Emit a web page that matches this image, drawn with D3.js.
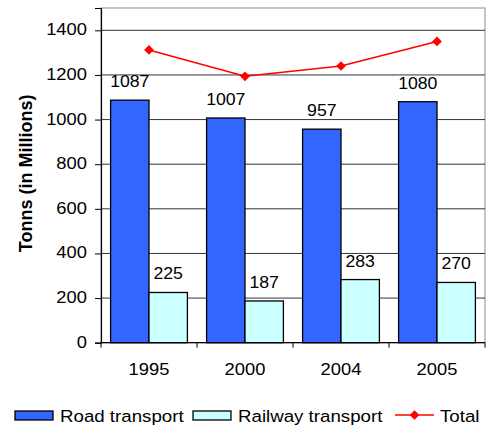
<!DOCTYPE html>
<html>
<head>
<meta charset="utf-8">
<script src="https://cdn.jsdelivr.net/npm/d3@7"></script>
<style>
  html, body { margin: 0; padding: 0; background: #fff; }
  text { font-family: "Liberation Sans", Arial, sans-serif; fill: #000; }
</style>
</head>
<body>
<svg id="chart" width="486" height="428"></svg>
<script>
// Freight carried, in millions of tonnes
const years = ["1995", "2000", "2004", "2005"];
const roadTransport = [1087, 1007, 957, 1080];
const railwayTransport = [225, 187, 283, 270];
const totals = [1312, 1194, 1240, 1350];
const yTicks = [0, 200, 400, 600, 800, 1000, 1200, 1400];
const seriesNames = ["Road transport", "Railway transport", "Total"];

const svg = d3.select("#chart");
const plot = { left: 101, right: 485, top: 8, bottom: 342.7 };

// place a text at (px, py) with a slight horizontal widening of the glyphs
function widen(sel, px, py, sx) {
  sel.attr("x", 0).attr("y", 0)
    .attr("transform", (d, i) => `translate(${typeof px === "function" ? px(d, i) : px},${typeof py === "function" ? py(d, i) : py}) scale(${sx},1)`);
}

const x = d3.scaleBand().domain(years).range([plot.left, plot.right])
  .paddingInner(0.2).paddingOuter(0.1);
const xSeries = d3.scaleBand().domain([0, 1]).range([0, x.bandwidth()]);
const y = d3.scaleLinear().domain([0, 1500]).range([plot.bottom, plot.top]);

// plot frame
svg.append("rect")
  .attr("x", plot.left).attr("y", plot.top)
  .attr("width", plot.right - plot.left).attr("height", plot.bottom - plot.top)
  .attr("fill", "none").attr("stroke", "#a0a0a0").attr("stroke-width", 1.2);

// horizontal gridlines
svg.append("g").selectAll("line").data(yTicks.filter(d => d > 0)).join("line")
  .attr("x1", plot.left).attr("x2", plot.right)
  .attr("y1", d => y(d)).attr("y2", d => y(d))
  .attr("stroke", "#333").attr("stroke-width", 1);

// bars
const groups = years.map((yr, i) => ({ yr, vals: [roadTransport[i], railwayTransport[i]] }));
const fills = ["#3366ff", "#ccffff"];
const g = svg.append("g").selectAll("g").data(groups).join("g")
  .attr("transform", d => `translate(${x(d.yr)},0)`);
g.selectAll("rect").data(d => d.vals.map((v, k) => ({ v, k }))).join("rect")
  .attr("x", d => xSeries(d.k)).attr("width", xSeries.bandwidth())
  .attr("y", d => y(d.v)).attr("height", d => y(0) - y(d.v))
  .attr("fill", d => fills[d.k]).attr("stroke", "#000").attr("stroke-width", 1.3);
g.selectAll("text").data(d => d.vals.map((v, k) => ({ v, k }))).join("text")
  .attr("text-anchor", "middle").attr("font-size", 17)
  .text(d => d.v)
  .call(widen, d => xSeries(d.k) + xSeries.bandwidth() / 2, d => y(d.v) - 13, 1.04);

// left axis
const yAxis = svg.append("g").attr("transform", `translate(${plot.left},0)`)
  .call(d3.axisLeft(y).tickValues(yTicks).tickSize(6).tickPadding(8).tickFormat(d3.format("d")));
yAxis.select(".domain").attr("stroke", "#000").attr("stroke-width", 1.2);
yAxis.selectAll(".tick line").attr("stroke", "#000");
yAxis.selectAll(".tick text").attr("font-size", 17).attr("fill", "#000")
  .attr("font-family", "Liberation Sans, Arial, sans-serif")
  .attr("dy", null).attr("dominant-baseline", "middle")
  .call(widen, -14, 0, 1.08);

// bottom axis
const xAxis = svg.append("g").attr("transform", `translate(0,${plot.bottom})`);
xAxis.append("line").attr("x1", plot.left).attr("x2", plot.right)
  .attr("stroke", "#000").attr("stroke-width", 1.2);
const bounds = years.map(yr => x(yr) - x.step() * x.paddingInner() / 2).concat([plot.right]);
xAxis.selectAll("line.tk").data(bounds).join("line").attr("class", "tk")
  .attr("x1", d => d).attr("x2", d => d).attr("y1", 0).attr("y2", 5)
  .attr("stroke", "#000");
xAxis.selectAll("text").data(years).join("text")
  .attr("text-anchor", "middle").attr("font-size", 17).text(d => d)
  .call(widen, d => x(d) + x.bandwidth() / 2, 32, 1.08);

// total line
const line = d3.line().x((d, i) => x(years[i]) + x.bandwidth() / 2).y(d => y(d));
svg.append("path").datum(totals).attr("d", line)
  .attr("fill", "none").attr("stroke", "#ff0000").attr("stroke-width", 1.5);
const diamond = d3.symbol().type(d3.symbolDiamond2).size(60);
svg.append("g").selectAll("path").data(totals).join("path")
  .attr("d", diamond)
  .attr("transform", (d, i) => `translate(${x(years[i]) + x.bandwidth() / 2},${y(d)})`)
  .attr("fill", "#ff0000");

// y axis title
svg.append("text")
  .attr("transform", `translate(32,${(plot.top + plot.bottom) / 2 - 2}) rotate(-90)`)
  .attr("text-anchor", "middle").attr("font-size", 18).attr("font-weight", "bold")
  .text("Tonns (in Millions)");

// legend
const legend = svg.append("g").attr("transform", "translate(0,416)");
legend.append("rect").attr("x", 15).attr("y", -5).attr("width", 38).attr("height", 9)
  .attr("fill", fills[0]).attr("stroke", "#000").attr("stroke-width", 1.3);
legend.append("text").attr("font-size", 17).text(seriesNames[0]).call(widen, 60, 5.5, 1.1);
legend.append("rect").attr("x", 193).attr("y", -5).attr("width", 38).attr("height", 9)
  .attr("fill", fills[1]).attr("stroke", "#000").attr("stroke-width", 1.3);
legend.append("text").attr("font-size", 17).text(seriesNames[1]).call(widen, 238, 5.5, 1.1);
legend.append("line").attr("x1", 395).attr("x2", 434).attr("y1", -1).attr("y2", -1)
  .attr("stroke", "#ff0000").attr("stroke-width", 1.5);
legend.append("path").attr("d", diamond).attr("transform", "translate(414.5,-1)")
  .attr("fill", "#ff0000");
legend.append("text").attr("font-size", 17).text(seriesNames[2]).call(widen, 440, 5.5, 1.1);
</script>
</body>
</html>
